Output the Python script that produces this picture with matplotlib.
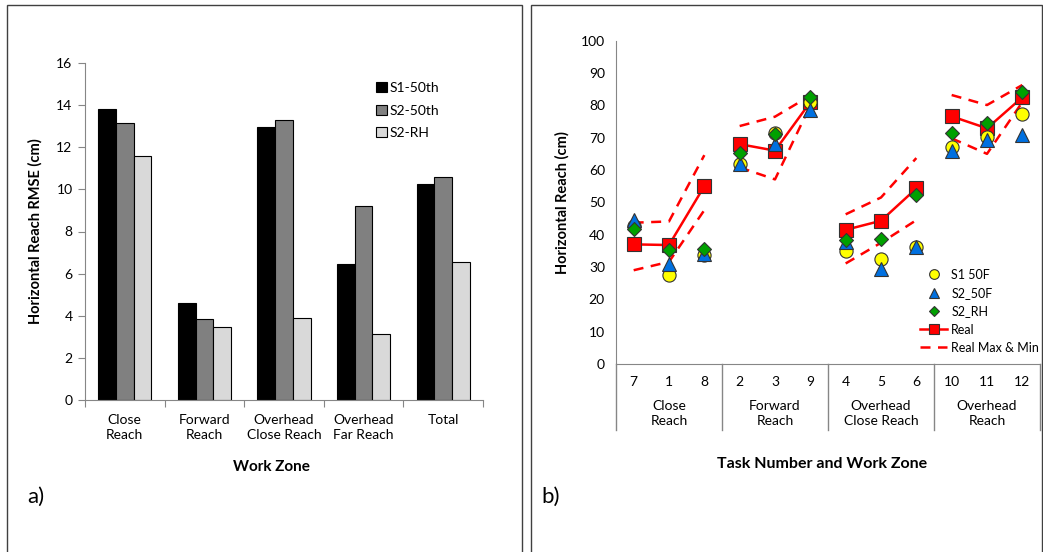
import numpy as np
import matplotlib
matplotlib.use("Agg")
import matplotlib.pyplot as plt
from matplotlib.patches import Rectangle
from matplotlib.lines import Line2D

plt.rcParams['font.family'] = ['Lato', 'DejaVu Sans']
plt.rcParams['font.size'] = 10

# panel a data
zones = ["Close\nReach", "Forward\nReach", "Overhead\nClose Reach", "Overhead\nFar Reach", "Total"]
s1_50th = [13.8, 4.6, 12.95, 6.45, 10.25]
s2_50th = [13.15, 3.85, 13.3, 9.2, 10.6]
s2_rh = [11.6, 3.45, 3.9, 3.15, 6.55]

# panel b data
tasks = ["7", "1", "8", "2", "3", "9", "4", "5", "6", "10", "11", "12"]
groups = ["Close\nReach", "Forward\nReach", "Overhead\nClose Reach", "Overhead\nReach"]
s1_50f = [42.8, 27.4, 33.8, 62.0, 71.3, 81.0, 35.0, 32.4, 36.3, 67.2, 70.3, 77.3]
s2_50f = [44.5, 31.0, 34.0, 62.0, 68.0, 78.5, 37.8, 29.3, 36.3, 66.0, 69.3, 70.8]
s2_rh_b = [41.9, 35.2, 35.7, 65.2, 71.0, 82.7, 38.5, 38.7, 52.4, 71.5, 74.5, 84.0]
real = [37.0, 36.8, 55.0, 68.0, 66.0, 81.0, 41.5, 44.3, 54.3, 76.6, 72.9, 82.5]
real_max = [43.7, 44.1, 64.6, 73.6, 76.5, 83.0, 46.3, 51.5, 63.7, 83.2, 80.1, 86.3]
real_min = [29.0, 31.6, 47.6, 60.8, 57.1, 80.0, 31.1, 37.5, 44.5, 69.8, 65.0, 81.0]

W, H = 1043, 552
fig = plt.figure(figsize=(W / 100, H / 100), dpi=100)

# panel frames
fig.patches.append(Rectangle((7 / W, -0.01), 515 / W, 1 - 5 / H + 0.01, transform=fig.transFigure,
                             fill=False, edgecolor='#404040', linewidth=1))
fig.patches.append(Rectangle((531 / W, -0.01), 511 / W, 1 - 5 / H + 0.01, transform=fig.transFigure,
                             fill=False, edgecolor='#404040', linewidth=1))

grid_col = '#868686'

# ---------- panel a ----------
ax = fig.add_axes([85 / W, 1 - 400 / H, 398 / W, 337 / H])
x = np.arange(len(zones))
bw = 0.223
ax.bar(x - bw, s1_50th, bw, color='black', edgecolor='black', linewidth=0.8, label='S1-50th')
ax.bar(x, s2_50th, bw, color='#808080', edgecolor='black', linewidth=0.8, label='S2-50th')
ax.bar(x + bw, s2_rh, bw, color='#d9d9d9', edgecolor='black', linewidth=0.8, label='S2-RH')
ax.set_xlim(-0.5, len(zones) - 0.5)
ax.set_ylim(0, 16)
ax.set_yticks(range(0, 17, 2))
ax.set_xticks(np.arange(-0.5, len(zones)), minor=False)
ax.set_xticklabels([])
ax.set_xticks(x, minor=True)
ax.set_xticklabels(zones, minor=True, linespacing=1.35)
ax.tick_params(axis='x', which='major', length=5, color=grid_col, direction='out')
ax.tick_params(axis='x', which='minor', length=0, pad=10)
ax.tick_params(axis='y', length=5, color=grid_col, pad=4)
for s in ['top', 'right']:
    ax.spines[s].set_visible(False)
for s in ['left', 'bottom']:
    ax.spines[s].set_color(grid_col)
ax.set_ylabel("Horizontal Reach RMSE (cm)", fontweight='bold', fontsize=10.5, labelpad=10)
fig.text(271 / W, 1 - 467 / H, "Work Zone", fontweight='bold', fontsize=11,
         ha='center', va='center')
ax.legend(loc='upper left', bbox_to_anchor=(0.70, 0.98), frameon=False,
          handlelength=0.75, handleheight=0.75, handletextpad=0.25, labelspacing=0.75)
fig.text(27 / W, 1 - 497 / H, "a)", fontsize=16, va='center')

# ---------- panel b ----------
bx = fig.add_axes([616 / W, 1 - 364 / H, 424 / W, 323.3 / H])
xb = np.arange(len(tasks))
for g in range(4):
    sl = slice(3 * g, 3 * g + 3)
    bx.plot(xb[sl], real_max[sl], color='red', linestyle=(0, (4, 3)), linewidth=1.8, zorder=2)
    bx.plot(xb[sl], real_min[sl], color='red', linestyle=(0, (4, 3)), linewidth=1.8, zorder=2)
    bx.plot(xb[sl], real[sl], color='red', linewidth=1.8, marker='s', markersize=9.5,
            markerfacecolor='red', markeredgecolor='#333333', markeredgewidth=0.8, zorder=3)
bx.plot(xb, s1_50f, linestyle='none', marker='o', markersize=9.5, markerfacecolor='#ffff00',
        markeredgecolor='#333333', markeredgewidth=0.8, zorder=4)
bx.plot(xb, s2_50f, linestyle='none', marker='^', markersize=10, markerfacecolor='#0070e0',
        markeredgecolor='#333333', markeredgewidth=0.8, zorder=5)
bx.plot(xb, s2_rh_b, linestyle='none', marker='D', markersize=7.5, markerfacecolor='#00a000',
        markeredgecolor='#333333', markeredgewidth=0.8, zorder=6)

bx.set_xlim(-0.5, len(tasks) - 0.5)
bx.set_ylim(0, 100)
bx.set_yticks(range(0, 101, 10))
bx.set_xticks(xb)
bx.set_xticklabels(tasks)
bx.tick_params(axis='x', length=0, pad=9)
bx.tick_params(axis='y', length=0, pad=8)
for s in ['top', 'right']:
    bx.spines[s].set_visible(False)
for s in ['left', 'bottom']:
    bx.spines[s].set_color(grid_col)

trans = bx.get_xaxis_transform()
for b in [-0.5, 2.5, 5.5, 8.5, 11.5]:
    bx.plot([b, b], [0, -0.204], transform=trans, color=grid_col, linewidth=1, clip_on=False)
for g, name in enumerate(groups):
    bx.text(3 * g + 1, -0.112, name, transform=trans, ha='center', va='top',
            linespacing=1.3, fontsize=10)
bx.set_ylabel("Horizontal Reach (cm)", fontweight='bold', fontsize=10.5, labelpad=8)
fig.text(822 / W, 1 - 464 / H, "Task Number and Work Zone", fontweight='bold',
         fontsize=11.5, ha='center', va='center')
fig.text(541 / W, 1 - 497 / H, "b)", fontsize=16, va='center')

handles = [
    Line2D([], [], linestyle='none', marker='o', markersize=7, markerfacecolor='#ffff00',
           markeredgecolor='#333333', markeredgewidth=0.8),
    Line2D([], [], linestyle='none', marker='^', markersize=7, markerfacecolor='#0070e0',
           markeredgecolor='#333333', markeredgewidth=0.8),
    Line2D([], [], linestyle='none', marker='D', markersize=5.5, markerfacecolor='#00a000',
           markeredgecolor='#333333', markeredgewidth=0.8),
    Line2D([], [], color='red', linewidth=1.8, marker='s', markersize=7, markerfacecolor='red',
           markeredgecolor='#333333', markeredgewidth=0.8),
    Line2D([], [], color='red', linewidth=1.8, linestyle=(0, (4, 3))),
]
labels = ["S1 50F", "S2_50F", "S2_RH", "Real", "Real Max & Min"]
bx.legend(handles, labels, loc='upper left', bbox_to_anchor=(0.705, 0.31), frameon=False,
          fontsize=9, handlelength=2.2, handletextpad=0.3, labelspacing=0.5, borderaxespad=0)

fig.savefig("out.png", dpi=100)
